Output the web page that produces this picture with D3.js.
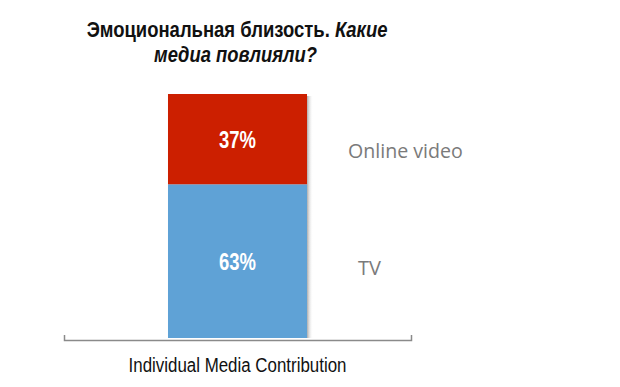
<!DOCTYPE html>
<html><head><meta charset="utf-8">
<script src="https://cdn.jsdelivr.net/npm/d3@7"></script>
<style>body{margin:0;background:#fff}svg{display:block}</style>
</head><body><svg width="620" height="387"></svg>
<script>
const categories = ["Individual Media Contribution"];
const seriesNames = ["TV", "Online video"];
const seriesValues = [63, 37];
const valueLabels = ["63%", "37%"];
const colors = ["#5fa2d6", "#cc1f00"];

const svg = d3.select("svg");
const x = d3.scaleBand().domain(categories).range([64, 411]).paddingInner(0).paddingOuter(0.748);
const y = d3.scaleLinear().domain([0, 100]).range([338, 94]);

function fit(sel, cx, w) {
  const bb = sel.node().getBBox();
  const s = w / bb.width;
  sel.attr("transform", `translate(${cx},0) scale(${s},1) translate(${-cx},0)`);
}

const defs = svg.append("defs");
const g = defs.append("linearGradient").attr("id","sh").attr("x1","0").attr("x2","1");
g.append("stop").attr("offset","0").attr("stop-color","#999").attr("stop-opacity",0.8);
g.append("stop").attr("offset","1").attr("stop-color","#fff").attr("stop-opacity",0);

const stack = [];
let acc = 0;
seriesValues.forEach((v,i)=>{stack.push({name:seriesNames[i], v, y0:acc, y1:acc+v, label:valueLabels[i], color:colors[i]}); acc+=v;});

svg.append("rect").attr("x", x(categories[0]) + x.bandwidth()).attr("y", y(acc)+2)
  .attr("width", 6).attr("height", y(0)-y(acc)-2).attr("fill","url(#sh)");

svg.selectAll("rect.bar").data(stack).join("rect").attr("class","bar")
  .attr("x", x(categories[0])).attr("width", x.bandwidth())
  .attr("y", d=>y(d.y1)).attr("height", d=>y(d.y0)-y(d.y1)).attr("fill", d=>d.color);

const cx = x(categories[0]) + x.bandwidth()/2;
svg.selectAll("text.val").data(stack).join("text").attr("class","val")
  .attr("x", cx).attr("y", d=>y((d.y0+d.y1)/2)+3)
  .attr("text-anchor","middle").attr("dominant-baseline","middle")
  .attr("fill","#fff").attr("font-family","'Liberation Sans',Arial,sans-serif")
  .attr("font-weight","bold").attr("font-size",23).text(d=>d.label)
  .each(function(){ fit(d3.select(this), cx, 37); });

svg.selectAll("text.leg").data(stack).join("text").attr("class","leg")
  .attr("x", d=> d.name==="TV" ? 358 : 348).attr("y", d=>d.name==="TV" ? 270 : 153)
  .attr("dominant-baseline","middle").attr("fill","#7a7a7a")
  .attr("font-family","'Open Sans','Lato',sans-serif").attr("font-size",20).text(d=>d.name)
  .each(function(d){ if (d.name!=="TV") fit(d3.select(this), 348, 115); });

const axis = d3.axisBottom(x).tickSize(0).tickSizeOuter(-5).tickPadding(25);
const ax = svg.append("g").attr("transform","translate(0,340)").call(axis);
ax.select(".domain").attr("stroke","#8a8a8a").attr("stroke-width",1.5);
ax.selectAll(".tick line").remove();
ax.selectAll(".tick text").attr("font-family","'Liberation Sans',Arial,sans-serif").attr("font-size",21).attr("fill","#111").attr("dy","0.35em")
  .each(function(){ fit(d3.select(this), 0, 218); });

const t1 = svg.append("text").attr("x",237).attr("y",37).attr("text-anchor","middle")
  .attr("font-family","'Liberation Sans',Arial,sans-serif").attr("font-weight","bold").attr("font-size",22).attr("fill","#111");
t1.append("tspan").text("Эмоциональная близость. ");
t1.append("tspan").attr("font-style","italic").text("Какие");
fit(t1, 237.5, 301);
const t2 = svg.append("text").attr("x",235.5).attr("y",62).attr("text-anchor","middle")
  .attr("font-family","'Liberation Sans',Arial,sans-serif").attr("font-weight","bold").attr("font-style","italic").attr("font-size",22).attr("fill","#111")
  .text("медиа повлияли?");
fit(t2, 235.5, 163);
</script></body></html>
